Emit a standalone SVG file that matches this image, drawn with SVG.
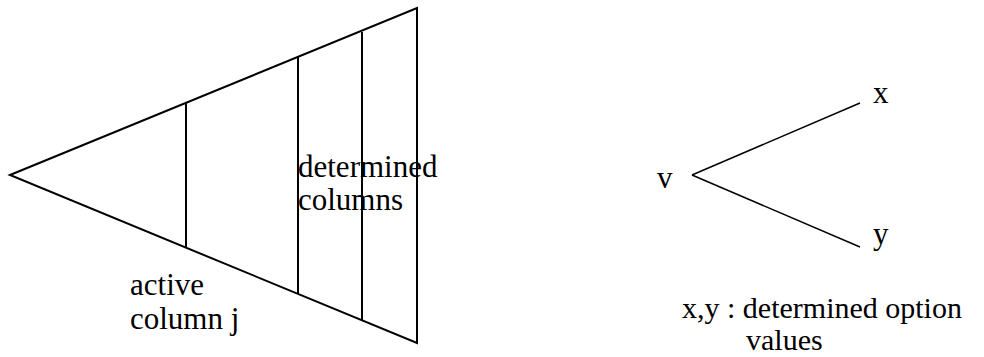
<svg xmlns="http://www.w3.org/2000/svg" width="984" height="357" viewBox="0 0 984 357">
<style>
.ln{stroke:#000;stroke-width:2;fill:none}
.thin{stroke:#000;stroke-width:1.5;fill:none}
text{font-family:'Liberation Serif','DejaVu Serif','Times New Roman',serif;font-size:31px;fill:#000}
.lg{font-size:30px}
</style>
<rect width="984" height="357" fill="#fff"/>
<g id="triangle">
<polygon class="ln" points="10,175 417,8 417,343"/>
<line class="ln" x1="186" y1="103" x2="186" y2="248"/>
<line class="ln" x1="298" y1="56" x2="298" y2="294"/>
<line class="ln" x1="362" y1="32" x2="362" y2="321"/>
</g>
<g id="labels">
<text x="298" y="177">determined</text>
<text x="298" y="210">columns</text>
<text x="130" y="295">active</text>
<text x="130" y="329">column j</text>
</g>
<g id="connectors">
<line class="thin" x1="692" y1="175" x2="860" y2="103"/>
<line class="thin" x1="692" y1="175" x2="860" y2="247"/>
</g>
<g id="node-v"><text x="657" y="188">v</text></g>
<g id="node-x"><text x="873" y="103">x</text></g>
<g id="node-y"><text x="873" y="244">y</text></g>
<g id="legend">
<text class="lg" x="682" y="318">x,y : determined option</text>
<text class="lg" x="746" y="350">values</text>
</g>
</svg>
